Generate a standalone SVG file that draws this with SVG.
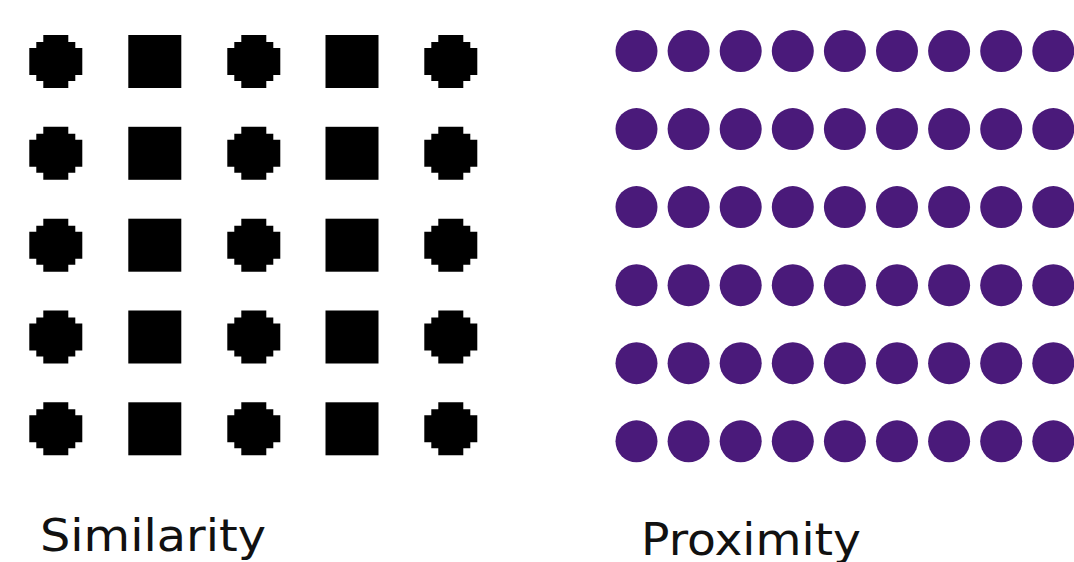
<svg xmlns="http://www.w3.org/2000/svg" width="1074" height="562" viewBox="0 0 1074 562">
  <defs>
    <style>
      .blk { fill: #000; }
      .pur { fill: #4a1a7a; }
      .lbl { font-family: "DejaVu Sans", Verdana, sans-serif; font-size: 45px; fill: #111; }
    </style>
    <path id="pc" d="M14 0H39V7H46V13H53V40H46V46H39V53H14V46H7V40H0V13H7V7H14Z"/>
    <rect id="sq" x="0" y="0" width="53" height="53"/>
    <circle id="dot" cx="0" cy="0" r="21"/>
  </defs>
  <rect width="1074" height="562" fill="#fff"/>

  <g id="similarity-grid" class="blk">
    <g id="row-s1">
      <use href="#pc" x="29.3" y="35"/><use href="#sq" x="128.3" y="35"/><use href="#pc" x="227.3" y="35"/><use href="#sq" x="325.5" y="35"/><use href="#pc" x="424.3" y="35"/>
    </g>
    <g id="row-s2">
      <use href="#pc" x="29.3" y="126.8"/><use href="#sq" x="128.3" y="126.8"/><use href="#pc" x="227.3" y="126.8"/><use href="#sq" x="325.5" y="126.8"/><use href="#pc" x="424.3" y="126.8"/>
    </g>
    <g id="row-s3">
      <use href="#pc" x="29.3" y="218.7"/><use href="#sq" x="128.3" y="218.7"/><use href="#pc" x="227.3" y="218.7"/><use href="#sq" x="325.5" y="218.7"/><use href="#pc" x="424.3" y="218.7"/>
    </g>
    <g id="row-s4">
      <use href="#pc" x="29.3" y="310.5"/><use href="#sq" x="128.3" y="310.5"/><use href="#pc" x="227.3" y="310.5"/><use href="#sq" x="325.5" y="310.5"/><use href="#pc" x="424.3" y="310.5"/>
    </g>
    <g id="row-s5">
      <use href="#pc" x="29.3" y="402.3"/><use href="#sq" x="128.3" y="402.3"/><use href="#pc" x="227.3" y="402.3"/><use href="#sq" x="325.5" y="402.3"/><use href="#pc" x="424.3" y="402.3"/>
    </g>
  </g>

  <g id="proximity-grid" class="pur">
    <g id="row-p1">
      <use href="#dot" x="636.5" y="51"/><use href="#dot" x="688.6" y="51"/><use href="#dot" x="740.7" y="51"/><use href="#dot" x="792.8" y="51"/><use href="#dot" x="844.9" y="51"/><use href="#dot" x="897" y="51"/><use href="#dot" x="949.1" y="51"/><use href="#dot" x="1001.2" y="51"/><use href="#dot" x="1053.3" y="51"/>
    </g>
    <g id="row-p2">
      <use href="#dot" x="636.5" y="129.1"/><use href="#dot" x="688.6" y="129.1"/><use href="#dot" x="740.7" y="129.1"/><use href="#dot" x="792.8" y="129.1"/><use href="#dot" x="844.9" y="129.1"/><use href="#dot" x="897" y="129.1"/><use href="#dot" x="949.1" y="129.1"/><use href="#dot" x="1001.2" y="129.1"/><use href="#dot" x="1053.3" y="129.1"/>
    </g>
    <g id="row-p3">
      <use href="#dot" x="636.5" y="207.1"/><use href="#dot" x="688.6" y="207.1"/><use href="#dot" x="740.7" y="207.1"/><use href="#dot" x="792.8" y="207.1"/><use href="#dot" x="844.9" y="207.1"/><use href="#dot" x="897" y="207.1"/><use href="#dot" x="949.1" y="207.1"/><use href="#dot" x="1001.2" y="207.1"/><use href="#dot" x="1053.3" y="207.1"/>
    </g>
    <g id="row-p4">
      <use href="#dot" x="636.5" y="285.2"/><use href="#dot" x="688.6" y="285.2"/><use href="#dot" x="740.7" y="285.2"/><use href="#dot" x="792.8" y="285.2"/><use href="#dot" x="844.9" y="285.2"/><use href="#dot" x="897" y="285.2"/><use href="#dot" x="949.1" y="285.2"/><use href="#dot" x="1001.2" y="285.2"/><use href="#dot" x="1053.3" y="285.2"/>
    </g>
    <g id="row-p5">
      <use href="#dot" x="636.5" y="363.2"/><use href="#dot" x="688.6" y="363.2"/><use href="#dot" x="740.7" y="363.2"/><use href="#dot" x="792.8" y="363.2"/><use href="#dot" x="844.9" y="363.2"/><use href="#dot" x="897" y="363.2"/><use href="#dot" x="949.1" y="363.2"/><use href="#dot" x="1001.2" y="363.2"/><use href="#dot" x="1053.3" y="363.2"/>
    </g>
    <g id="row-p6">
      <use href="#dot" x="636.5" y="441.3"/><use href="#dot" x="688.6" y="441.3"/><use href="#dot" x="740.7" y="441.3"/><use href="#dot" x="792.8" y="441.3"/><use href="#dot" x="844.9" y="441.3"/><use href="#dot" x="897" y="441.3"/><use href="#dot" x="949.1" y="441.3"/><use href="#dot" x="1001.2" y="441.3"/><use href="#dot" x="1053.3" y="441.3"/>
    </g>
  </g>

  <g id="labels">
    <text id="label-similarity" class="lbl" x="40" y="551" textLength="226" lengthAdjust="spacingAndGlyphs">Similarity</text>
    <text id="label-proximity" class="lbl" x="641" y="554.5" textLength="220" lengthAdjust="spacingAndGlyphs">Proximity</text>
  </g>
</svg>
